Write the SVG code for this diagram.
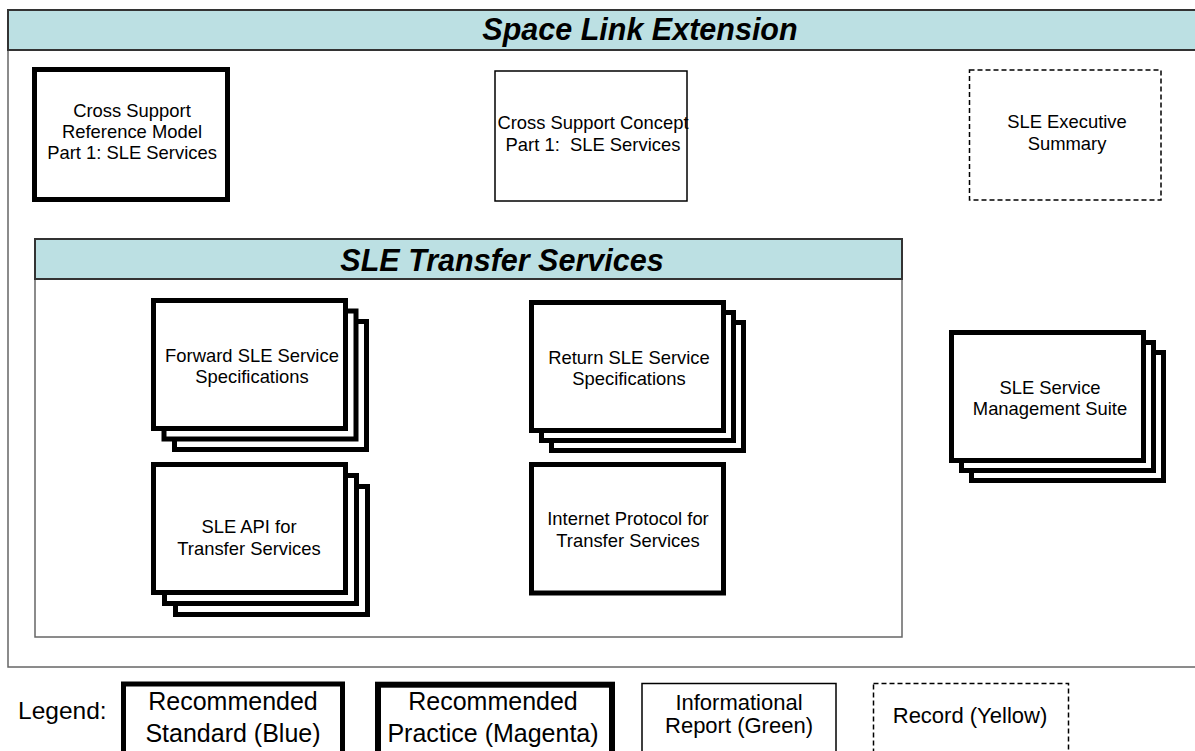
<svg xmlns="http://www.w3.org/2000/svg" width="1195" height="751" viewBox="0 0 1195 751">
<style>
  text { font-family: "Liberation Sans", Arial, sans-serif; fill: #000; }
  .t { font-size: 18.4px; text-anchor: middle; }
  .title { font-size: 30.5px; font-weight: bold; font-style: italic; text-anchor: middle; }
  .lg { font-size: 25px; text-anchor: middle; }
  .ls { font-size: 22px; text-anchor: middle; }
  .band { fill: #bce0e3; stroke: #333; stroke-width: 2; }
  .frame { fill: #fff; stroke: #666; stroke-width: 1.5; }
  .thick { fill: #fff; stroke: #000; stroke-width: 5; }
  .thin { fill: #fff; stroke: #000; stroke-width: 1.5; }
  .dash { fill: #fff; stroke: #000; stroke-width: 1.5; stroke-dasharray: 5 3; }
</style>
<rect width="1195" height="751" fill="#fff"/>

<g id="space-link-extension">
  <rect class="frame" x="8" y="10" width="1260" height="657"/>
  <rect class="band" x="8" y="10" width="1260" height="40"/>
  <text class="title" x="640" y="40">Space Link Extension</text>
</g>

<g id="cross-support-reference-model">
  <rect class="thick" x="34.5" y="69.5" width="193" height="130"/>
  <text class="t" x="132" y="117.3">Cross Support</text>
  <text class="t" x="132" y="138.3">Reference Model</text>
  <text class="t" x="132" y="159.3">Part 1: SLE Services</text>
</g>

<g id="cross-support-concept">
  <rect class="thin" x="495" y="71" width="192" height="130"/>
  <text class="t" x="593" y="129.3">Cross Support Concept</text>
  <text class="t" x="593" y="150.7" style="white-space:pre">Part 1:  SLE Services</text>
</g>

<g id="sle-executive-summary">
  <rect class="dash" x="969.5" y="70" width="191.5" height="130"/>
  <text class="t" x="1067" y="128">SLE Executive</text>
  <text class="t" x="1067" y="150">Summary</text>
</g>

<g id="sle-transfer-services">
  <rect class="frame" x="35" y="239" width="867" height="398"/>
  <rect class="band" x="35" y="239" width="867" height="40"/>
  <text class="title" x="502" y="271">SLE Transfer Services</text>
</g>

<g id="forward-sle-service-specifications">
  <rect class="thick" x="174.5" y="321.5" width="192" height="128"/>
  <rect class="thick" x="164" y="311" width="192" height="128"/>
  <rect class="thick" x="153.5" y="300.5" width="192" height="128"/>
  <text class="t" x="252" y="362">Forward SLE Service</text>
  <text class="t" x="252" y="383">Specifications</text>
</g>

<g id="return-sle-service-specifications">
  <rect class="thick" x="551.5" y="322.5" width="192" height="128"/>
  <rect class="thick" x="541.5" y="312.5" width="192" height="128"/>
  <rect class="thick" x="531.5" y="302.5" width="192" height="128"/>
  <text class="t" x="629" y="363.5">Return SLE Service</text>
  <text class="t" x="629" y="384.5">Specifications</text>
</g>

<g id="sle-api-for-transfer-services">
  <rect class="thick" x="175.5" y="486.5" width="192" height="128"/>
  <rect class="thick" x="164.5" y="475.5" width="192" height="128"/>
  <rect class="thick" x="153.5" y="464.5" width="192" height="128"/>
  <text class="t" x="249" y="533">SLE API for</text>
  <text class="t" x="249" y="554.5">Transfer Services</text>
</g>

<g id="internet-protocol-for-transfer-services">
  <rect class="thick" x="531.5" y="464.5" width="192" height="128.5"/>
  <text class="t" x="628" y="525">Internet Protocol for</text>
  <text class="t" x="628" y="546.5">Transfer Services</text>
</g>

<g id="sle-service-management-suite">
  <rect class="thick" x="971.5" y="352.5" width="192" height="128"/>
  <rect class="thick" x="961.5" y="342.5" width="192" height="128"/>
  <rect class="thick" x="951.5" y="332.5" width="192" height="128"/>
  <text class="t" x="1050" y="394">SLE Service</text>
  <text class="t" x="1050" y="415">Management Suite</text>
</g>

<g id="connectors"></g>

<g id="legend">
  <text x="18" y="719" style="font-size:24.5px">Legend:</text>
  <g id="legend-recommended-standard">
    <rect class="thick" x="123.5" y="684" width="219" height="100"/>
    <text class="lg" x="233" y="710">Recommended</text>
    <text class="lg" x="233" y="742">Standard (Blue)</text>
  </g>
  <g id="legend-recommended-practice">
    <rect class="thick" style="stroke-width:6" x="378" y="684.7" width="234" height="100"/>
    <text class="lg" x="493" y="710">Recommended</text>
    <text class="lg" x="493" y="742">Practice (Magenta)</text>
  </g>
  <g id="legend-informational-report">
    <rect class="thin" x="642" y="683.5" width="194" height="100"/>
    <text class="ls" x="739" y="710">Informational</text>
    <text class="ls" x="739" y="733">Report (Green)</text>
  </g>
  <g id="legend-record">
    <rect class="dash" x="873.5" y="683.5" width="195" height="100"/>
    <text class="ls" x="970" y="723">Record (Yellow)</text>
  </g>
</g>
</svg>
